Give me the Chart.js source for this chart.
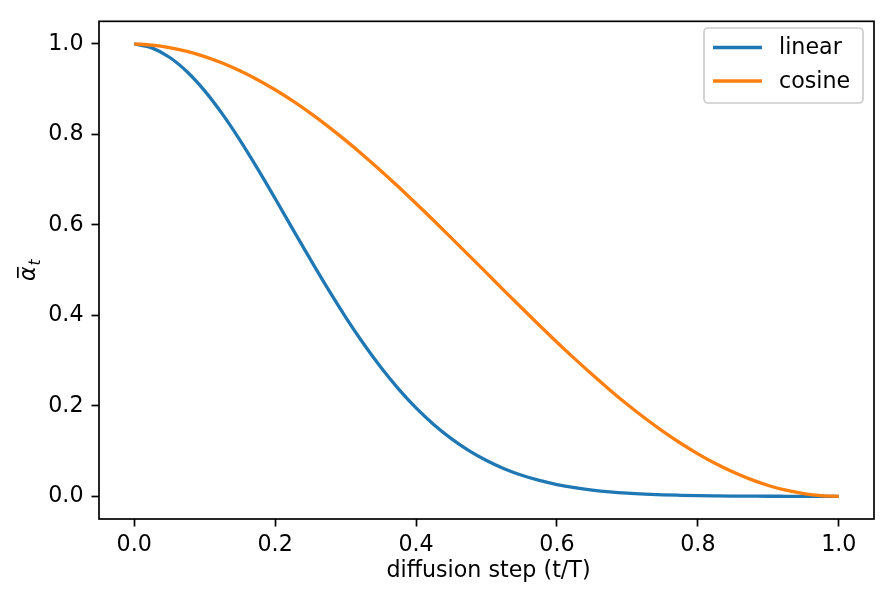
<!DOCTYPE html>
<html>
<head>
<meta charset="utf-8">
<script src="https://cdn.jsdelivr.net/npm/chart.js@4.4.1/dist/chart.umd.min.js"></script>
<style>
html,body{margin:0;padding:0;background:#fff;}
#wrap{width:888px;height:592px;position:relative;}
</style>
</head>
<body>
<div id="wrap"><canvas id="c" width="888" height="592"></canvas></div>
<script>
const steps = [0,0.025,0.05,0.075,0.1,0.125,0.15,0.175,0.2,0.225,0.25,0.275,0.3,0.325,0.35,0.375,0.4,0.425,0.45,0.475,0.5,0.525,0.55,0.575,0.6,0.625,0.65,0.675,0.7,0.725,0.75,0.775,0.8,0.825,0.85,0.875,0.9,0.925,0.95,0.975,1.0];
const linearAlpha = [1.0,0.9913,0.9706,0.9385,0.8963,0.8454,0.7875,0.7245,0.6584,0.5908,0.5237,0.4584,0.3963,0.3384,0.2854,0.2377,0.1955,0.1589,0.1275,0.1010,0.0791,0.0611,0.0466,0.0352,0.0262,0.0193,0.0140,0.0100,0.0071,0.0050,0.0034,0.0024,0.0016,0.0011,0.0007,0.0005,0.0003,0.0002,0.0001,0.0001,0.0000];
const cosineAlpha = [1.0,0.9975,0.9920,0.9835,0.9721,0.9578,0.9407,0.9210,0.8987,0.8740,0.8470,0.8179,0.7869,0.7542,0.7199,0.6842,0.6475,0.6098,0.5715,0.5328,0.4939,0.4549,0.4163,0.3782,0.3408,0.3044,0.2692,0.2353,0.2031,0.1727,0.1443,0.1180,0.0941,0.0726,0.0537,0.0375,0.0241,0.0136,0.0061,0.0015,0.0000];
const seriesLabels = ["linear","cosine"];
const xTicks = [0.0,0.2,0.4,0.6,0.8,1.0];
const yTicks = [0.0,0.2,0.4,0.6,0.8,1.0];
const xTitle = "diffusion step (t/T)";

const FONT = "'DejaVu Sans', sans-serif";
const FS = 22.2;
const colors = ["#1f77b4","#ff7f0e"];

const framePlugin = {
  id:'frame',
  afterDatasetsDraw(chart){
    const {ctx, chartArea:a} = chart;
    ctx.save();
    ctx.strokeStyle='#000';
    ctx.lineWidth=1.7;
    ctx.strokeRect(a.left, a.top, a.right-a.left, a.bottom-a.top);
    ctx.restore();
  },
  afterDraw(chart){
    const {ctx, chartArea:a} = chart;
    ctx.save();
    ctx.fillStyle='#000';
    ctx.font = FS+"px "+FONT;
    ctx.textAlign='center';
    ctx.textBaseline='alphabetic';
    ctx.fillText(xTitle, (a.left+a.right)/2 + 2, 577);
    ctx.translate(35, (a.top+a.bottom)/2);
    ctx.rotate(-Math.PI/2);
    ctx.font = "oblique "+FS+"px "+FONT;
    const wa = ctx.measureText("α").width;
    ctx.font = "oblique "+(FS*0.7)+"px "+FONT;
    const wt = ctx.measureText("t").width;
    const total = wa + wt + 1;
    let x0 = -total/2;
    ctx.textAlign='left';
    ctx.font = "oblique "+FS+"px "+FONT;
    ctx.fillText("α", x0, 0);
    ctx.fillRect(x0+3, -18, wa-3.5, 1.7);
    ctx.font = "oblique "+(FS*0.7)+"px "+FONT;
    ctx.fillText("t", x0+wa+1, 4.5);
    ctx.restore();
    ctx.save();
    const bx=704, by=28, bw=159, bh=75, r=4;
    ctx.beginPath();
    ctx.moveTo(bx+r,by);
    ctx.arcTo(bx+bw,by,bx+bw,by+bh,r);
    ctx.arcTo(bx+bw,by+bh,bx,by+bh,r);
    ctx.arcTo(bx,by+bh,bx,by,r);
    ctx.arcTo(bx,by,bx+bw,by,r);
    ctx.closePath();
    ctx.fillStyle='rgba(255,255,255,0.8)';
    ctx.fill();
    ctx.strokeStyle='#cccccc';
    ctx.lineWidth=1.7;
    ctx.stroke();
    const rows=[47.5,81];
    chart.data.datasets.forEach((ds,i)=>{
      const y=rows[i];
      ctx.strokeStyle=ds.borderColor;
      ctx.lineWidth=3.3;
      ctx.beginPath();
      ctx.moveTo(713,y); ctx.lineTo(762,y); ctx.stroke();
      ctx.fillStyle='#000';
      ctx.font=FS+"px "+FONT;
      ctx.textAlign='left';
      ctx.textBaseline='middle';
      ctx.fillText(ds.label, 779, y+1);
    });
    ctx.restore();
  }
};

const mk = (ys)=>steps.map((t,i)=>({x:t,y:ys[i]}));

new Chart(document.getElementById('c'),{
  type:'line',
  data:{
    datasets:[
      {label:seriesLabels[0], data:mk(linearAlpha), borderColor:colors[0], borderWidth:3.3, pointRadius:0, cubicInterpolationMode:'monotone', order:1, fill:false},
      {label:seriesLabels[1], data:mk(cosineAlpha), borderColor:colors[1], borderWidth:3.3, pointRadius:0, cubicInterpolationMode:'monotone', order:0, fill:false}
    ]
  },
  options:{
    responsive:false,
    animation:false,
    devicePixelRatio:1,
    layout:{padding:{left:0,top:17,right:14,bottom:0}},
    plugins:{legend:{display:false},tooltip:{enabled:false}},
    scales:{
      x:{
        type:'linear', min:-0.05, max:1.05,
        afterBuildTicks(s){ s.ticks = xTicks.map(v=>({value:v})); },
        afterFit(s){ s.height = 73; },
        ticks:{callback:v=>Number(v).toFixed(1), color:'#000', font:{family:FONT,size:FS}, padding:5, maxRotation:0, autoSkip:false},
        grid:{drawOnChartArea:false, drawTicks:true, tickLength:7.5, tickWidth:1.7, tickColor:'#000'},
        border:{display:false}
      },
      y:{
        type:'linear', min:-0.05, max:1.05,
        afterBuildTicks(s){ s.ticks = yTicks.map(v=>({value:v})); },
        afterFit(s){ s.width = 99; },
        ticks:{callback:v=>Number(v).toFixed(1), color:'#000', font:{family:FONT,size:FS}, padding:8, autoSkip:false},
        grid:{drawOnChartArea:false, drawTicks:true, tickLength:7.5, tickWidth:1.7, tickColor:'#000'},
        border:{display:false}
      }
    }
  },
  plugins:[framePlugin]
});
</script>
</body>
</html>
